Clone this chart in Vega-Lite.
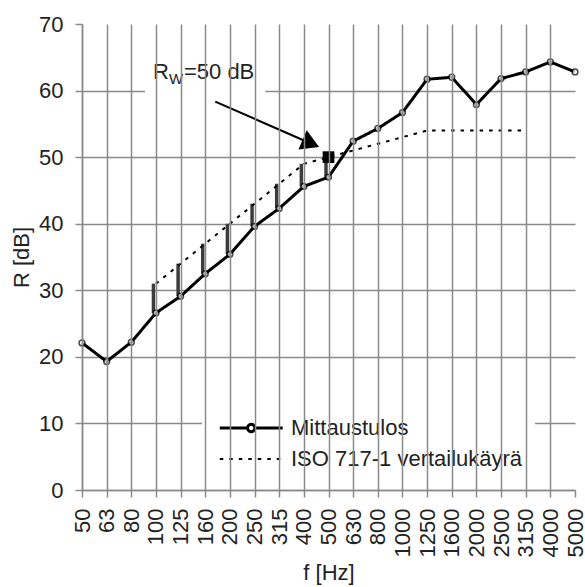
{
  "$schema": "https://vega.github.io/schema/vega-lite/v6.json",
  "width": 493,
  "height": 466,
  "autosize": {"type": "none"},
  "padding": {"left": 82, "top": 24, "right": 10, "bottom": 97},
  "background": "white",
  "config": {
    "font": "Liberation Sans",
    "view": {"stroke": null},
    "axis": {
      "labelFontSize": 22,
      "labelColor": "#222",
      "titleFontSize": 22,
      "titleFontWeight": "normal",
      "titleColor": "#222",
      "tickSize": 7,
      "tickColor": "#8a8a8a",
      "tickWidth": 1.5,
      "domainColor": "#8a8a8a",
      "domainWidth": 1.5,
      "gridColor": "#8a8a8a",
      "gridWidth": 1.5
    },
    "legend": {
      "title": null,
      "orient": "none",
      "legendX": 120,
      "legendY": 381,
      "fillColor": "white",
      "padding": 12,
      "labelFontSize": 22,
      "labelColor": "#222",
      "labelLimit": 400,
      "symbolSize": 110,
      "labelOffset": 55,
      "rowPadding": 9
    }
  },
  "datasets": {
    "mittaus": [
      {"f": 50, "Mittaustulos": 22.1, "ISO 717-1 vertailukäyrä": null},
      {"f": 63, "Mittaustulos": 19.3, "ISO 717-1 vertailukäyrä": null},
      {"f": 80, "Mittaustulos": 22.2, "ISO 717-1 vertailukäyrä": null},
      {"f": 100, "Mittaustulos": 26.6, "ISO 717-1 vertailukäyrä": 31},
      {"f": 125, "Mittaustulos": 29.1, "ISO 717-1 vertailukäyrä": 34},
      {"f": 160, "Mittaustulos": 32.5, "ISO 717-1 vertailukäyrä": 37},
      {"f": 200, "Mittaustulos": 35.4, "ISO 717-1 vertailukäyrä": 40},
      {"f": 250, "Mittaustulos": 39.6, "ISO 717-1 vertailukäyrä": 43},
      {"f": 315, "Mittaustulos": 42.3, "ISO 717-1 vertailukäyrä": 46},
      {"f": 400, "Mittaustulos": 45.6, "ISO 717-1 vertailukäyrä": 49},
      {"f": 500, "Mittaustulos": 47.0, "ISO 717-1 vertailukäyrä": 50},
      {"f": 630, "Mittaustulos": 52.4, "ISO 717-1 vertailukäyrä": 51},
      {"f": 800, "Mittaustulos": 54.3, "ISO 717-1 vertailukäyrä": 52},
      {"f": 1000, "Mittaustulos": 56.7, "ISO 717-1 vertailukäyrä": 53},
      {"f": 1250, "Mittaustulos": 61.7, "ISO 717-1 vertailukäyrä": 54},
      {"f": 1600, "Mittaustulos": 62.0, "ISO 717-1 vertailukäyrä": 54},
      {"f": 2000, "Mittaustulos": 57.9, "ISO 717-1 vertailukäyrä": 54},
      {"f": 2500, "Mittaustulos": 61.8, "ISO 717-1 vertailukäyrä": 54},
      {"f": 3150, "Mittaustulos": 62.8, "ISO 717-1 vertailukäyrä": 54},
      {"f": 4000, "Mittaustulos": 64.3, "ISO 717-1 vertailukäyrä": null},
      {"f": 5000, "Mittaustulos": 62.8, "ISO 717-1 vertailukäyrä": null}
    ]
  },
  "data": {"name": "mittaus"},
  "layer": [
    {
      "data": {"values": [{}]},
      "mark": {"type": "rect", "color": "white", "xOffset": -11, "x2Offset": -14},
      "encoding": {
        "x": {"datum": 100, "type": "ordinal"},
        "x2": {"datum": 315},
        "y": {"datum": 65.25, "type": "quantitative"},
        "y2": {"datum": 58.8}
      }
    },
    {
      "transform": [{"filter": "datum['ISO 717-1 vertailukäyrä'] > datum.Mittaustulos"}],
      "mark": {"type": "rule", "color": "#3c3c3c", "strokeWidth": 3.5, "xOffset": -2.5},
      "encoding": {
        "x": {"field": "f", "type": "ordinal"},
        "y": {"field": "Mittaustulos", "type": "quantitative"},
        "y2": {"field": "ISO 717-1 vertailukäyrä"}
      }
    },
    {
      "transform": [
        {"fold": ["Mittaustulos", "ISO 717-1 vertailukäyrä"], "as": ["sarja", "R"]},
        {"filter": "isValid(datum.R)"}
      ],
      "mark": {"type": "line", "color": "black"},
      "encoding": {
        "x": {
          "field": "f",
          "type": "ordinal",
          "scale": {"type": "point", "padding": 0},
          "axis": {
            "title": "f [Hz]",
            "labelAngle": -90,
            "labelPadding": 11,
            "titlePadding": 6,
            "grid": true,
            "gridOpacity": {"condition": {"test": "datum.value === 5000", "value": 0}, "value": 1}
          }
        },
        "y": {
          "field": "R",
          "type": "quantitative",
          "scale": {"domain": [0, 70], "nice": false},
          "axis": {
            "title": "R [dB]",
            "values": [0, 10, 20, 30, 40, 50, 60, 70],
            "labelPadding": 12,
            "titlePadding": 5,
            "grid": true,
            "gridOpacity": {"condition": {"test": "datum.value === 70", "value": 0}, "value": 1}
          }
        },
        "strokeDash": {
          "field": "sarja",
          "type": "nominal",
          "scale": {"domain": ["Mittaustulos", "ISO 717-1 vertailukäyrä"], "range": [[1, 0], [3.5, 6]]},
          "legend": {"title": null}
        },
        "strokeWidth": {
          "field": "sarja",
          "type": "nominal",
          "scale": {"domain": ["Mittaustulos", "ISO 717-1 vertailukäyrä"], "range": [3, 2]},
          "legend": null
        }
      }
    },
    {
      "transform": [
        {"fold": ["Mittaustulos", "ISO 717-1 vertailukäyrä"], "as": ["sarja", "R"]},
        {"filter": "false"}
      ],
      "mark": {"type": "point", "filled": false, "color": "black"},
      "encoding": {
        "x": {"field": "f", "type": "ordinal"},
        "y": {"field": "R", "type": "quantitative"},
        "strokeDash": {"field": "sarja", "type": "nominal", "legend": {"title": null}},
        "shape": {
          "field": "sarja",
          "type": "nominal",
          "scale": {
            "domain": ["Mittaustulos", "ISO 717-1 vertailukäyrä"],
            "range": [
              "M-1,0H4.3M5.7,0H11M5.7,0A0.7,0.7,0,1,1,4.3,0A0.7,0.7,0,1,1,5.7,0",
              "M-1,0H11"
            ]
          },
          "legend": {
            "title": null,
            "encode": {
              "symbols": {
                "update": {
                  "strokeWidth": {"signal": "datum.value === 'Mittaustulos' ? 3 : 2"},
                  "fill": {"value": "white"},
                  "stroke": {"value": "black"},
                  "opacity": {"value": 1}
                }
              }
            }
          }
        }
      }
    },
    {
      "mark": {"type": "point", "shape": "circle", "filled": true, "fill": "white", "stroke": "black", "strokeWidth": 1.5, "size": 34},
      "encoding": {
        "x": {"field": "f", "type": "ordinal"},
        "y": {"field": "Mittaustulos", "type": "quantitative"}
      }
    },
    {
      "data": {"values": [{}]},
      "mark": {"type": "point", "shape": "square", "filled": true, "color": "black", "size": 137, "opacity": 1},
      "encoding": {
        "x": {"datum": 500, "type": "ordinal"},
        "y": {"datum": 50, "type": "quantitative"}
      }
    },
    {
      "data": {"values": [{}]},
      "mark": {"type": "rule", "color": "black", "strokeWidth": 2, "xOffset": 10, "x2Offset": 7},
      "encoding": {
        "x": {"datum": 160, "type": "ordinal"},
        "x2": {"datum": 400},
        "y": {"datum": 58.35, "type": "quantitative"},
        "y2": {"datum": 52.05}
      }
    },
    {
      "data": {"values": [{}]},
      "mark": {"type": "point", "shape": "triangle-right", "filled": true, "color": "black", "size": 433, "angle": 23.7, "opacity": 1, "xOffset": 7},
      "encoding": {
        "x": {"datum": 400, "type": "ordinal"},
        "y": {"datum": 52.05, "type": "quantitative"}
      }
    },
    {
      "data": {"values": [{}]},
      "mark": {"type": "text", "text": "R", "fontSize": 22, "align": "left", "baseline": "alphabetic", "dx": -3, "color": "#222"},
      "encoding": {
        "x": {"datum": 100, "type": "ordinal"},
        "y": {"datum": 61.8, "type": "quantitative"}
      }
    },
    {
      "data": {"values": [{}]},
      "mark": {"type": "text", "text": "W", "fontSize": 15, "align": "left", "baseline": "alphabetic", "dx": 13, "dy": 5, "color": "#222"},
      "encoding": {
        "x": {"datum": 100, "type": "ordinal"},
        "y": {"datum": 61.8, "type": "quantitative"}
      }
    },
    {
      "data": {"values": [{}]},
      "mark": {"type": "text", "text": "=50 dB", "fontSize": 22, "align": "left", "baseline": "alphabetic", "dx": 28, "color": "#222"},
      "encoding": {
        "x": {"datum": 100, "type": "ordinal"},
        "y": {"datum": 61.8, "type": "quantitative"}
      }
    }
  ]
}
